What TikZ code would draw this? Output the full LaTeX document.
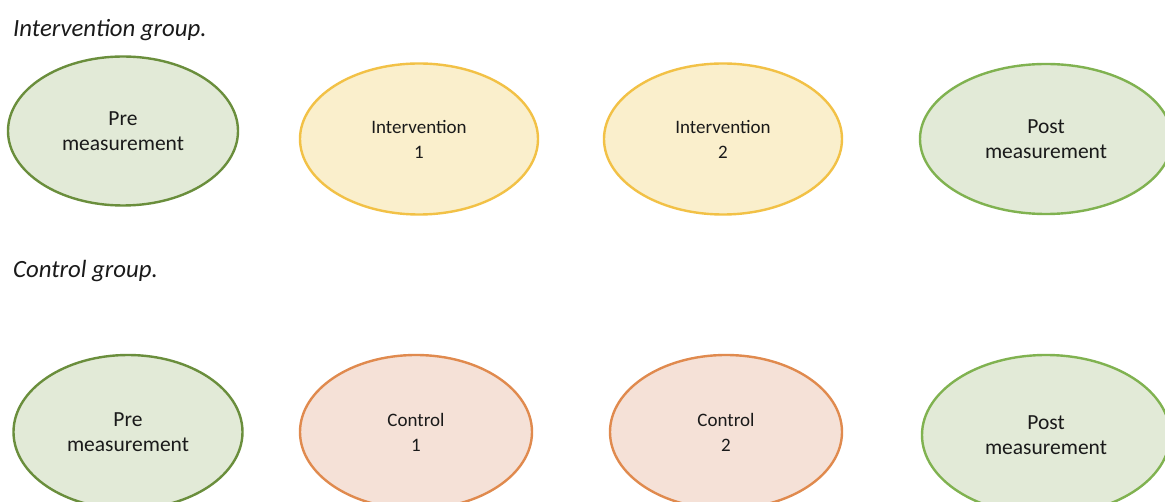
\documentclass[tikz,border=0pt]{standalone}
\usepackage{fontspec}
\setmainfont{Carlito}
\usetikzlibrary{shapes.geometric}
\definecolor{gfill}{HTML}{E2EAD7}
\definecolor{gdark}{HTML}{6A8E3C}
\definecolor{glight}{HTML}{80B250}
\definecolor{yfill}{HTML}{FAEFCC}
\definecolor{ydraw}{HTML}{F2C146}
\definecolor{ofill}{HTML}{F5E1D7}
\definecolor{odraw}{HTML}{E08A4E}
\definecolor{txt}{HTML}{1A1A1A}
\tikzset{
  blob/.style={ellipse, line width=2.4pt, inner sep=0pt, align=center, text=txt,
    font=\fontsize{21.5}{25}\selectfont},
  premeas/.style={blob, draw=gdark, fill=gfill},
  postmeas/.style={blob, draw=glight, fill=gfill},
  interv/.style={blob, draw=ydraw, fill=yfill, font=\fontsize{19}{25}\selectfont},
  ctrl/.style={blob, draw=odraw, fill=ofill, font=\fontsize{19}{25}\selectfont},
  heading/.style={anchor=base west, inner sep=0pt, text=txt,
    font=\fontsize{24.8}{28}\selectfont\itshape}
}
\begin{document}
\begin{tikzpicture}[x=1pt,y=-1pt]
\useasboundingbox (0,0) rectangle (1165,502);
\clip (0,0) rectangle (1165,502);
\fill[white] (0,0) rectangle (1165,502);

\node[heading] (h1) at (13,37) {Intervention group.};
\node[heading] (h2) at (13,278) {Control group.};

\node[premeas, minimum width=230pt, minimum height=149pt] (pre1) at (123,131) {Pre\\measurement};
\node[interv, minimum width=238pt, minimum height=151pt] (int1) at (419,139) {Intervention\\1};
\node[interv, minimum width=238pt, minimum height=151pt] (int2) at (723,139) {Intervention\\2};
\node[postmeas, minimum width=252pt, minimum height=150pt] (post1) at (1046,139) {Post\\measurement};

\node[premeas, minimum width=229pt, minimum height=154pt] (pre2) at (128,432) {Pre\\measurement};
\node[ctrl, minimum width=232pt, minimum height=154pt] (ctl1) at (416,432) {Control\\1};
\node[ctrl, minimum width=232pt, minimum height=154pt] (ctl2) at (726,432) {Control\\2};
\node[postmeas, minimum width=248pt, minimum height=160pt] (post2) at (1046,435) {Post\\measurement};
\end{tikzpicture}
\end{document}
